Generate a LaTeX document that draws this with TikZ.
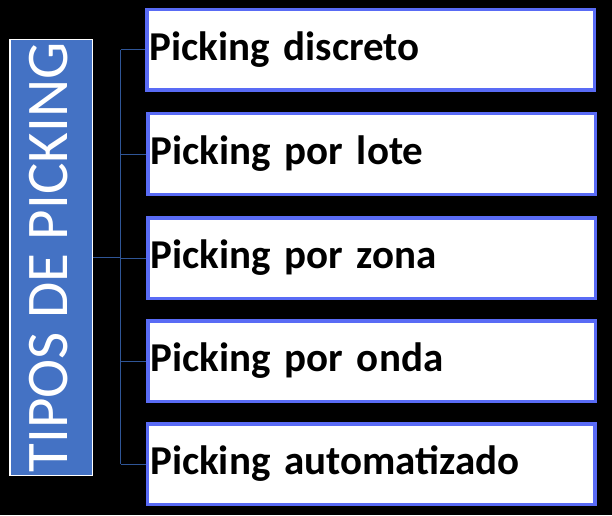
\documentclass[tikz,border=0pt]{standalone}
\usepackage{fontspec}
\setmainfont{Carlito}
\definecolor{fondoazul}{RGB}{68,114,196}
\definecolor{bordeazul}{RGB}{89,107,245}
\definecolor{lineaazul}{RGB}{47,85,151}
\begin{document}
\begin{tikzpicture}[x=1pt,y=1pt,
  tipo/.style={shape=rectangle, draw=bordeazul, line width=3.5pt, fill=white, minimum width=447.5pt, minimum height=80.5pt, inner xsep=3pt, text width=441.5pt, align=left, font=\bfseries\fontsize{41}{41}\selectfont},
  titulo/.style={shape=rectangle, draw=white, line width=1.5pt, fill=fondoazul, text=white, rotate=90, minimum width=435.5pt, minimum height=82.5pt, text depth=6pt, font=\fontsize{59}{59}\selectfont},
  rama/.style={draw=lineaazul, line width=1pt}]
%[fondo]
\fill[black] (0,0) rectangle (612,515);
\useasboundingbox (0,0) rectangle (612,515);

\path (51,257.5) node (T) [titulo] {TIPOS DE PICKING};
\path (370.5,465) node (P1) [tipo] {Picking discreto};
\path (371.5,361) node (P2) [tipo] {Picking por lote};
\path (371.5,257) node (P3) [tipo] {Picking por zona};
\path (371.5,154) node (P4) [tipo] {Picking por onda};
\path (371,51) node (P5) [tipo] {Picking automatizado};

\draw[rama] (T.south) -- ++(27.5,0) coordinate (tronco);
\draw[rama] (tronco |- P1.west) -- (tronco |- P5.west);
\foreach \n in {1,...,5}
  \draw[rama] (tronco |- P\n.west) -- (P\n.west);

\end{tikzpicture}
\end{document}
